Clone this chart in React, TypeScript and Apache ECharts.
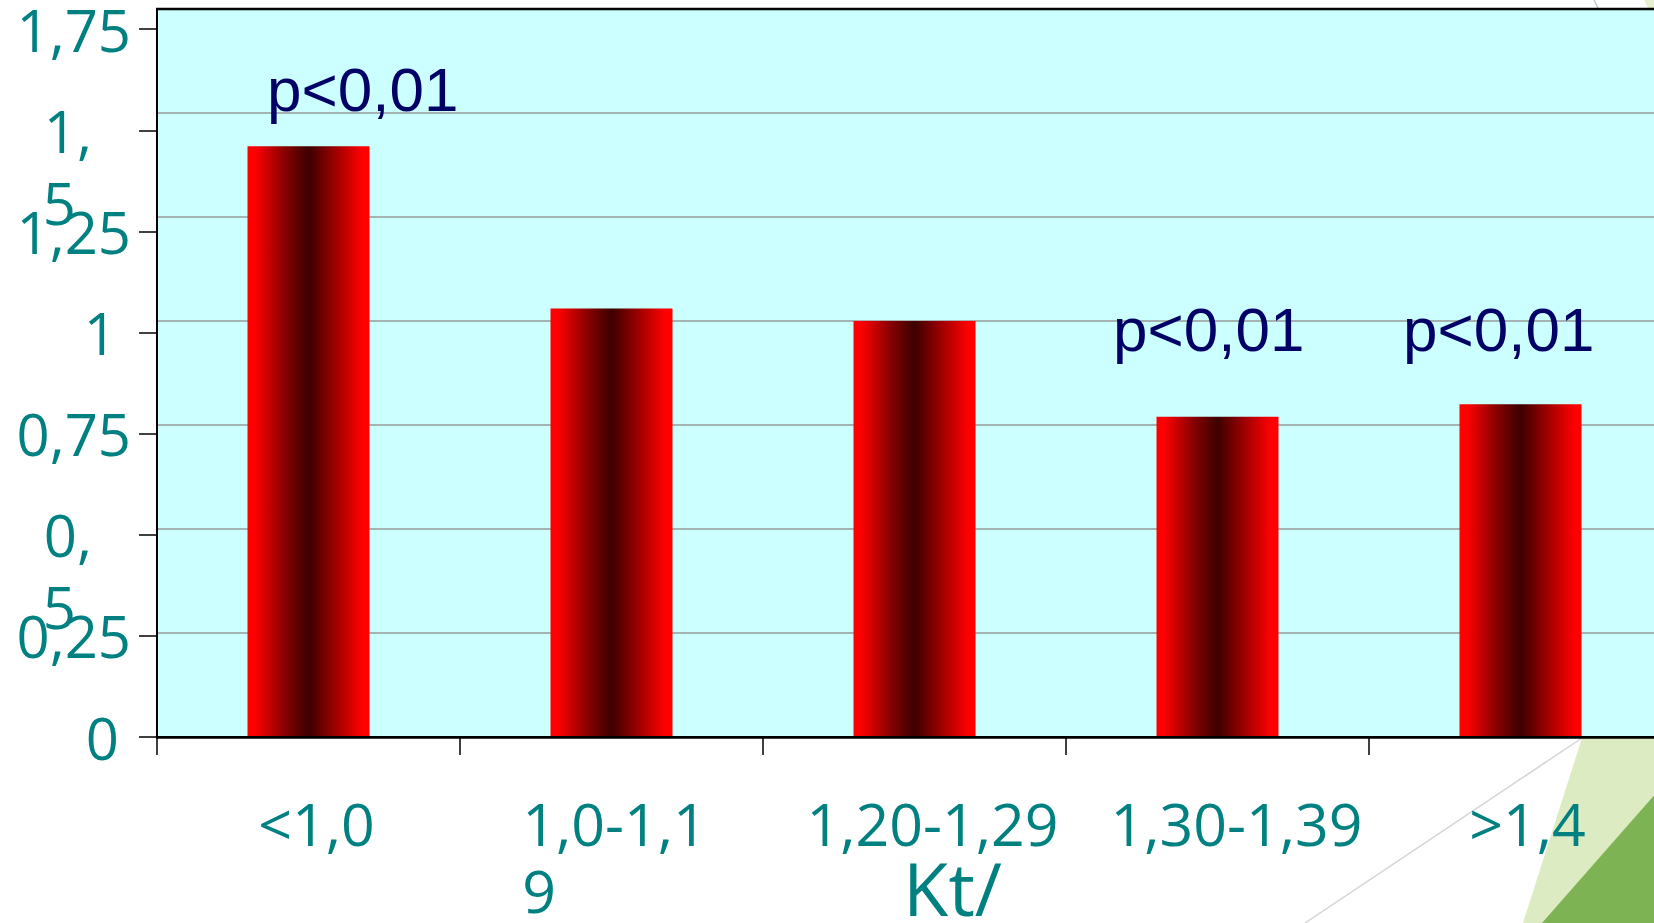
import React, { useEffect, useRef } from 'react';
import * as echarts from 'echarts';

// ---- data ----
const categories = ['<1,0', '1,0-1,19', '1,20-1,29', '1,30-1,39', '>1,4'];
const values = [1.42, 1.03, 1.0, 0.77, 0.8];
const yTicks = [0, 0.25, 0.5, 0.75, 1, 1.25, 1.5, 1.75];
const yTickLabels = ['0', '0,25', '0,5', '0,75', '1', '1,25', '1,5', '1,75'];
const yWrappedLabels = ['0,5', '1,5']; // labels that wrap after the comma
const pValueNotes = ['p<0,01', '', '', 'p<0,01', 'p<0,01'];
const xAxisTitle = 'Kt/';

export default function App() {
  const ref = useRef<HTMLDivElement>(null);

  useEffect(() => {
    const chart = echarts.init(ref.current!, null, { renderer: 'svg' });
    const teal = '#008080';
    const font = 'Open Sans';

    const barGradient = new echarts.graphic.LinearGradient(0, 0, 1, 0, [
      { offset: 0, color: '#ff0000' },
      { offset: 0.06, color: '#ff0000' },
      { offset: 0.3, color: '#8a0000' },
      { offset: 0.5, color: '#3c0000' },
      { offset: 0.7, color: '#950000' },
      { offset: 0.94, color: '#ff0000' },
      { offset: 1, color: '#ff0000' },
    ]);

    const labelOf = (v: number) => {
      const i = yTicks.findIndex((t) => Math.abs(t - v) < 1e-6);
      return i >= 0 ? yTickLabels[i] : '';
    };
    const wrappedTicks = yTicks.filter((t) => yWrappedLabels.includes(labelOf(t)));

    const yRichBase = { fontFamily: font, fontSize: 58, color: teal, lineHeight: 60 };
    const yFormatter = (v: number) => {
      const s = labelOf(v);
      if (yWrappedLabels.includes(s)) return `{w|${s.split(',')[0]},}`;
      if (s === '1') return `{one|${s}}`;
      if (s === '0') return `{zero|${s}}`;
      return `{n|${s}}`;
    };
    const yWrapFormatter = (v: number) => {
      const s = labelOf(v);
      return s.split(',')[1] || '';
    };

    const xPads = [16, 6, 36, 38, 14];
    const xRichBase = { fontFamily: font, fontSize: 59, color: teal, lineHeight: 67 };
    const xRich: any = {};
    xPads.forEach((p, i) => {
      xRich['c' + i] = { ...xRichBase, padding: [0, 0, 0, p] };
      xRich['l' + i] = { ...xRichBase, align: 'left', padding: [0, 0, 0, p] };
    });
    const wrapAt: Record<string, number> = { '1,0-1,19': 7 };
    const xFormatter = (v: string, i: number) => {
      const w = wrapAt[v];
      if (w) return `{c${i}|${v.slice(0, w)}}\n{l${i}|${v.slice(w)}}`;
      return `{c${i}|${v}}`;
    };

    const pPositions = [
      [267, 89],
      null,
      null,
      [1113, 329],
      [1403, 329],
    ];
    const pTexts: any[] = [];
    pValueNotes.forEach((t, i) => {
      const pos = pPositions[i];
      if (t && pos) {
        pTexts.push({
          type: 'text',
          x: pos[0],
          y: pos[1],
          z: 10,
          style: {
            text: t,
            fill: '#000066',
            fontSize: 62,
            fontFamily: 'Liberation Sans',
            align: 'left',
            verticalAlign: 'middle',
          },
        });
      }
    });

    chart.setOption({
      animation: false,
      backgroundColor: '#ffffff',
      grid: {
        left: 157,
        right: 0,
        top: 9,
        bottom: 186,
        show: true,
        backgroundColor: '#ccffff',
        borderWidth: 0,
        containLabel: false,
        outerBoundsMode: 'none',
      },
      xAxis: [
        {
          type: 'category',
          data: categories,
          position: 'bottom',
          z: 5,
          axisLine: { show: true, lineStyle: { color: '#000', width: 2 } },
          axisTick: { show: true, length: 18, lineStyle: { color: '#000', width: 1.5 } },
          axisLabel: {
            interval: 0,
            margin: 52,
            fontFamily: font,
            fontSize: 59,
            color: teal,
            lineHeight: 67,
            formatter: xFormatter,
            rich: xRich,
          },
          name: xAxisTitle,
          nameLocation: 'middle',
          nameGap: 112,
          nameMoveOverlap: false,
          nameTextStyle: {
            fontFamily: font,
            fontSize: 74,
            color: teal,
            lineHeight: 76,
            padding: [0, 0, 0, 76],
          },
          splitLine: { show: false },
        },
        {
          type: 'category',
          data: categories,
          position: 'top',
          z: 5,
          axisLine: { show: true, lineStyle: { color: '#000', width: 2.5 } },
          axisTick: { show: false },
          axisLabel: { show: false },
          splitLine: { show: false },
        },
      ],
      yAxis: [
        {
          type: 'value',
          min: 0,
          max: 1.75,
          interval: 0.25,
          position: 'left',
          axisLine: { show: false },
          axisTick: { show: false },
          axisLabel: { show: false },
          splitLine: { show: true, lineStyle: { color: '#999999', width: 1.5 } },
        },
        {
          type: 'value',
          min: 0,
          max: 1.8,
          position: 'left',
          z: 5,
          axisLine: { show: true, lineStyle: { color: '#000', width: 2 } },
          axisTick: {
            show: true,
            length: 18,
            customValues: yTicks,
            lineStyle: { color: '#000', width: 1.5 },
          },
          axisLabel: {
            customValues: yTicks,
            showMinLabel: true,
            showMaxLabel: true,
            hideOverlap: false,
            margin: 26,
            fontFamily: font,
            fontSize: 58,
            color: teal,
            formatter: yFormatter,
            rich: {
              n: { ...yRichBase },
              one: { ...yRichBase, padding: [0, 14, 0, 0] },
              zero: { ...yRichBase, padding: [0, 12, 0, 0] },
              w: { ...yRichBase, padding: [0, 39, 0, 0] },
            },
          },
          splitLine: { show: false },
        },
        {
          type: 'value',
          min: 0,
          max: 1.8,
          position: 'left',
          axisLine: { show: false },
          axisTick: { show: false },
          axisLabel: {
            customValues: wrappedTicks,
            showMinLabel: true,
            showMaxLabel: true,
            hideOverlap: false,
            margin: 81,
            verticalAlign: 'top',
            lineHeight: 144,
            fontFamily: font,
            fontSize: 58,
            color: teal,
            formatter: yWrapFormatter,
          },
          splitLine: { show: false },
        },
      ],
      series: [
        {
          type: 'bar',
          xAxisIndex: 0,
          yAxisIndex: 0,
          data: values,
          barWidth: 122,
          itemStyle: { color: barGradient },
        },
      ],
      graphic: [
        ...pTexts,
        {
          type: 'line',
          z: 20,
          shape: { x1: 156, y1: 9, x2: 1672, y2: 9 },
          style: { stroke: '#000000', lineWidth: 2.5 },
        },
        {
          type: 'polygon',
          z: -1,
          shape: { points: [[1582, 738], [1672, 738], [1672, 923], [1523, 923]] },
          style: { fill: '#dcebc2' },
        },
        {
          type: 'polygon',
          z: -1,
          shape: { points: [[1672, 775], [1672, 923], [1542, 923]] },
          style: { fill: '#7db353' },
        },
        {
          type: 'line',
          z: -1,
          shape: { x1: 1582, y1: 738, x2: 1305, y2: 923 },
          style: { stroke: '#d4d4d4', lineWidth: 1.5 },
        },
        {
          type: 'line',
          z: -1,
          shape: { x1: 1594, y1: 0, x2: 1598, y2: 8 },
          style: { stroke: '#c8c8c8', lineWidth: 1.5 },
        },
        {
          type: 'polygon',
          z: -1,
          shape: { points: [[1644, 0], [1672, 0], [1672, 8], [1648, 8]] },
          style: { fill: '#e6efcf' },
        },
      ],
    });

    return () => chart.dispose();
  }, []);

  return (
    <div
      style={{
        position: 'fixed',
        left: 0,
        top: 0,
        width: 1654,
        height: 923,
        overflow: 'hidden',
        background: '#ffffff',
      }}
    >
      <div ref={ref} style={{ width: 1672, height: 923 }} />
    </div>
  );
}
